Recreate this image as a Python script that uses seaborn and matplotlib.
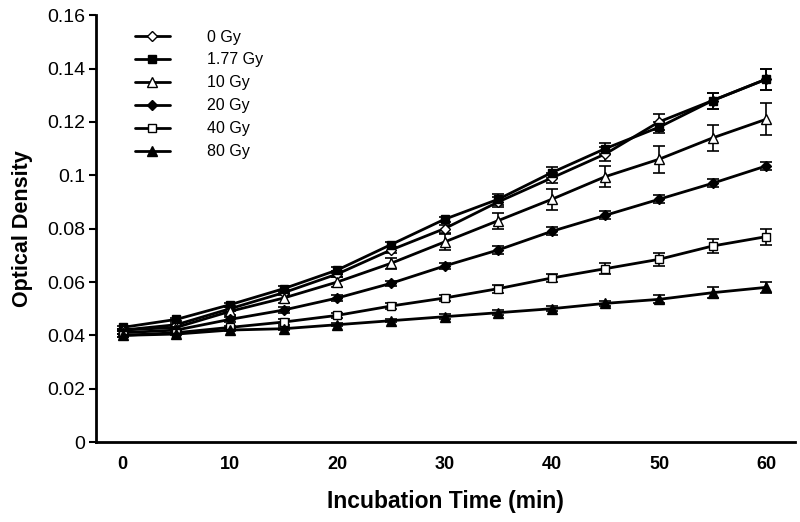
import numpy as np
import pandas as pd
import matplotlib
matplotlib.use("Agg")
import matplotlib.pyplot as plt
import seaborn as sns

time_min = [0, 5, 10, 15, 20, 25, 30, 35, 40, 45, 50, 55, 60]
dose_labels = ["0 Gy", "1.77 Gy", "10 Gy", "20 Gy", "40 Gy", "80 Gy"]

od_0gy = [0.042, 0.044, 0.050, 0.056, 0.063, 0.072, 0.080, 0.090, 0.099, 0.108, 0.120, 0.128, 0.136]
od_177gy = [0.043, 0.046, 0.0515, 0.0575, 0.0645, 0.074, 0.0835, 0.091, 0.101, 0.110, 0.118, 0.128, 0.136]
od_10gy = [0.042, 0.043, 0.049, 0.054, 0.060, 0.067, 0.075, 0.083, 0.091, 0.0995, 0.106, 0.114, 0.121]
od_20gy = [0.041, 0.042, 0.046, 0.0495, 0.054, 0.0595, 0.066, 0.072, 0.079, 0.085, 0.091, 0.097, 0.1035]
od_40gy = [0.040, 0.041, 0.043, 0.045, 0.0475, 0.051, 0.054, 0.0575, 0.0615, 0.065, 0.0685, 0.0735, 0.077]
od_80gy = [0.040, 0.0405, 0.042, 0.0425, 0.044, 0.0455, 0.047, 0.0485, 0.050, 0.052, 0.0535, 0.056, 0.058]

err_0gy = [0.0005, 0.0005, 0.001, 0.001, 0.001, 0.001, 0.0015, 0.002, 0.002, 0.0025, 0.003, 0.003, 0.004]
err_177gy = [0.0005, 0.0005, 0.0008, 0.001, 0.001, 0.001, 0.001, 0.002, 0.002, 0.002, 0.002, 0.003, 0.004]
err_10gy = [0.0005, 0.001, 0.0015, 0.002, 0.002, 0.002, 0.003, 0.003, 0.004, 0.004, 0.005, 0.005, 0.006]
err_20gy = [0.0005, 0.0005, 0.001, 0.001, 0.001, 0.001, 0.001, 0.0015, 0.0015, 0.0015, 0.0015, 0.0015, 0.0015]
err_40gy = [0.0005, 0.0005, 0.0005, 0.001, 0.001, 0.001, 0.001, 0.0015, 0.0015, 0.002, 0.0025, 0.0025, 0.003]
err_80gy = [0.0005, 0.0005, 0.0005, 0.0005, 0.0005, 0.0005, 0.001, 0.001, 0.001, 0.001, 0.0015, 0.002, 0.002]

y_ticks = [0, 0.02, 0.04, 0.06, 0.08, 0.1, 0.12, 0.14, 0.16]
y_tick_labels = ["0", "0.02", "0.04", "0.06", "0.08", "0.1", "0.12", "0.14", "0.16"]
x_ticks = [0, 10, 20, 30, 40, 50, 60]

series_values = [od_0gy, od_177gy, od_10gy, od_20gy, od_40gy, od_80gy]
series_errors = [err_0gy, err_177gy, err_10gy, err_20gy, err_40gy, err_80gy]
styles = [("D", "white", 5.0), ("s", "black", 6.0), ("^", "white", 6.5), ("D", "black", 5.0), ("s", "white", 6.0), ("^", "black", 7.0)]

sns.set_theme(style="white")
plt.rcParams["font.family"] = ["Liberation Sans", "DejaVu Sans"]
plt.rcParams["text.color"] = "black"
plt.rcParams["axes.labelcolor"] = "black"
plt.rcParams["xtick.color"] = "black"
plt.rcParams["ytick.color"] = "black"

fig = plt.figure(figsize=(8, 5.22), dpi=100)
ax = fig.add_axes([0.12, 0.153, 0.874, 0.818])

for label, vals, errs, (mk, fc, ms) in zip(dose_labels, series_values, series_errors, styles):
    df = pd.DataFrame({"time": time_min, "od": vals})
    ax.errorbar(time_min, vals, yerr=errs, fmt="none", ecolor="black", elinewidth=1.2, capsize=4, capthick=1.2, zorder=2)
    sns.lineplot(data=df, x="time", y="od", ax=ax, color="black", linewidth=2, marker=mk,
                 markersize=ms, markerfacecolor=fc, markeredgecolor="black", markeredgewidth=1.0,
                 label=label, zorder=3)

ax.set_xlim(-2.5, 62.7)
ax.set_ylim(0, 0.16)
ax.set_yticks(y_ticks)
ax.set_yticklabels(y_tick_labels, fontsize=14)
ax.set_xticks(x_ticks)
ax.set_xticklabels([str(t) for t in x_ticks], fontsize=13, fontweight="bold",
                   family=["Liberation Sans Narrow", "Liberation Sans"])
ax.tick_params(axis="y", direction="out", length=5, width=1.5, left=True, pad=3, labelcolor="black")
ax.tick_params(axis="x", length=0, pad=10, labelcolor="black")

for side in ["top", "right"]:
    ax.spines[side].set_visible(False)
for side in ["left", "bottom"]:
    ax.spines[side].set_linewidth(2)
    ax.spines[side].set_color("black")

ax.set_xlabel("Incubation Time (min)", fontsize=16.5, fontweight="bold", color="black",
              family=["Liberation Sans Narrow", "Liberation Sans"], labelpad=12)
ax.set_ylabel("Optical Density", fontsize=15.5, fontweight="bold", color="black", labelpad=10)

leg = ax.legend(loc="upper left", bbox_to_anchor=(0.035, 1.0), frameon=False, fontsize=11.5,
                handlelength=2.2, handletextpad=2.3, labelspacing=0.5)
for t in leg.get_texts():
    t.set_color("black")

fig.savefig("out.png", dpi=100)
